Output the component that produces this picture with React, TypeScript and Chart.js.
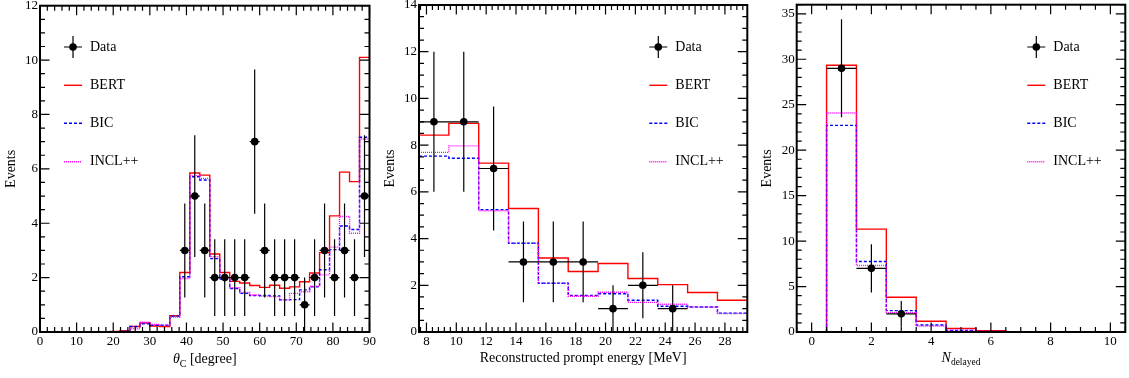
import React, { useEffect, useRef } from "react";
import { Chart, registerables } from "chart.js";

Chart.register(...registerables);

const FONT = '"Liberation Serif", "Times New Roman", serif';

// ---------- Panel 1: theta_C ----------
const thetaRange = [0, 90];
const thetaNBins = 33;
const thetaBERT = [0, 0, 0, 0, 0, 0, 0, 0.02, 0.05, 0.2, 0.33, 0.22, 0.2, 0.6, 2.19, 5.85, 5.77, 2.87, 2.19, 1.86, 1.8, 1.71, 1.64, 1.72, 1.61, 1.66, 1.85, 2.17, 2.92, 4.27, 5.88, 5.53, 10.1];
const thetaBIC = [0, 0, 0, 0, 0, 0, 0, 0.01, 0.03, 0.2, 0.3, 0.25, 0.25, 0.58, 2.03, 5.71, 5.59, 2.7, 1.95, 1.6, 1.42, 1.34, 1.34, 1.33, 1.18, 1.19, 1.55, 1.66, 2.29, 3.03, 3.9, 3.77, 7.16];
const thetaINCL = [0, 0, 0, 0, 0, 0, 0, 0.01, 0.04, 0.12, 0.36, 0.28, 0.25, 0.55, 1.97, 5.75, 5.65, 2.77, 1.97, 1.63, 1.45, 1.36, 1.32, 1.3, 1.18, 1.42, 1.48, 1.68, 2.1, 3.12, 4.25, 3.63, 7.1];
const thetaDataBins = [14, 15, 16, 17, 18, 19, 20, 21, 22, 23, 24, 25, 26, 27, 28, 29, 30, 31, 32];
const thetaData = [3, 5, 3, 2, 2, 2, 2, 7, 3, 2, 2, 2, 1, 2, 3, 2, 3, 2, 5];
const thetaDataErr = [1.73, 2.24, 1.73, 1.41, 1.41, 1.41, 1.41, 2.65, 1.73, 1.41, 1.41, 1.41, 1, 1.41, 1.73, 1.41, 1.73, 1.41, 2.24];
const thetaXTicks = [0, 10, 20, 30, 40, 50, 60, 70, 80, 90];
const thetaYTicks = [0, 2, 4, 6, 8, 10, 12];

// ---------- Panel 2: prompt energy ----------
const energyEdges = [7.5, 9.5, 11.5, 13.5, 15.5, 17.5, 19.5, 21.5, 23.5, 25.5, 27.5, 29.5];
const energyBERT = [8.43, 8.93, 7.23, 5.29, 3.17, 2.59, 2.93, 2.29, 2.03, 1.69, 1.36];
const energyBIC = [7.53, 7.44, 5.24, 3.8, 2.09, 1.57, 1.64, 1.36, 1.1, 1.07, 0.81];
const energyINCL = [7.69, 7.97, 5.19, 3.8, 2.09, 1.53, 1.7, 1.27, 1.19, 1.07, 0.79];
const energyDataBins = [0, 1, 2, 3, 4, 5, 6, 7, 8];
const energyData = [9, 9, 7, 3, 3, 3, 1, 2, 1];
const energyDataErr = [3, 3, 2.65, 1.73, 1.73, 1.73, 1, 1.41, 1];
const energyXTicks = [8, 10, 12, 14, 16, 18, 20, 22, 24, 26, 28];
const energyYTicks = [0, 2, 4, 6, 8, 10, 12, 14];

// ---------- Panel 3: N_delayed ----------
const ndelEdges = [-0.5, 0.5, 1.5, 2.5, 3.5, 4.5, 5.5, 6.5, 7.5, 8.5, 9.5, 10.5];
const ndelBERT = [0, 29.34, 11.31, 3.82, 1.18, 0.4, 0.15, 0, 0, 0, 0];
const ndelBIC = [0, 22.73, 7.75, 2.35, 0.77, 0.18, 0.05, 0, 0, 0, 0];
const ndelINCL = [0, 24.09, 7.31, 2.13, 0.66, 0.22, 0.05, 0, 0, 0, 0];
const ndelDataBins = [1, 2, 3];
const ndelData = [29, 7, 2];
const ndelDataErr = [5.39, 2.65, 1.41];
const ndelXTicks = [0, 2, 4, 6, 8, 10];
const ndelYTicks = [0, 5, 10, 15, 20, 25, 30, 35];

const seriesLabels = ["Data", "BERT", "BIC", "INCL++"];

function uniformEdges(range: number[], n: number) {
  const w = (range[1] - range[0]) / n;
  return Array.from({ length: n + 1 }, (_, i) => range[0] + i * w);
}

function histPoints(edges: number[], vals: number[]) {
  const pts = vals.map((v, i) => ({ x: edges[i], y: v }));
  pts.push({ x: edges[edges.length - 1], y: vals[vals.length - 1] });
  return pts;
}

function dataPoints(edges: number[], bins: number[], vals: number[]) {
  return bins.map((b, i) => ({ x: (edges[b] + edges[b + 1]) / 2, y: vals[i] }));
}

const rootFrame = {
  id: "rootFrame",
  afterDraw(chart: any, _a: any, opts: any) {
    const { ctx, chartArea: a, scales } = chart;
    const xs = scales.x;
    const ys = scales.y;
    const major = 9.5;
    const minor = 5;
    ctx.save();
    ctx.strokeStyle = "#000";
    ctx.lineWidth = 1.2;
    ctx.beginPath();
    const isMajor = (v: number, list: number[]) => list.some((t) => Math.abs(t - v) < 1e-6);
    const k0x = Math.ceil(xs.min / opts.xMinor - 1e-6);
    const k1x = Math.floor(xs.max / opts.xMinor + 1e-6);
    for (let k = k0x; k <= k1x; k++) {
      const v = k * opts.xMinor;
      const len = isMajor(v, opts.xMajor) ? major : minor;
      const p = xs.getPixelForValue(v);
      ctx.moveTo(p, a.bottom);
      ctx.lineTo(p, a.bottom - len);
      ctx.moveTo(p, a.top);
      ctx.lineTo(p, a.top + len);
    }
    const k0y = Math.ceil(ys.min / opts.yMinor - 1e-6);
    const k1y = Math.floor(ys.max / opts.yMinor + 1e-6);
    for (let k = k0y; k <= k1y; k++) {
      const v = k * opts.yMinor;
      const len = isMajor(v, opts.yMajor) ? major : minor;
      const p = ys.getPixelForValue(v);
      ctx.moveTo(a.left, p);
      ctx.lineTo(a.left + len, p);
      ctx.moveTo(a.right, p);
      ctx.lineTo(a.right - len, p);
    }
    ctx.stroke();
    ctx.lineWidth = 2;
    ctx.strokeRect(a.left, a.top, a.right - a.left, a.bottom - a.top);
    ctx.restore();
  },
};

const errorBars = {
  id: "errorBars",
  afterDatasetDraw(chart: any, args: any) {
    const ds = chart.data.datasets[args.index];
    if (!ds.yErr) return;
    const { ctx, chartArea: a, scales } = chart;
    const xs = scales.x;
    const ys = scales.y;
    ctx.save();
    ctx.beginPath();
    ctx.rect(a.left, a.top, a.right - a.left, a.bottom - a.top);
    ctx.clip();
    ctx.strokeStyle = "#000";
    ctx.lineWidth = 1.2;
    ctx.beginPath();
    ds.data.forEach((pt: any, j: number) => {
      const x = xs.getPixelForValue(pt.x);
      const y = ys.getPixelForValue(pt.y);
      ctx.moveTo(x, ys.getPixelForValue(pt.y - ds.yErr[j]));
      ctx.lineTo(x, ys.getPixelForValue(pt.y + ds.yErr[j]));
      ctx.moveTo(xs.getPixelForValue(pt.x - ds.xErr[j]), y);
      ctx.lineTo(xs.getPixelForValue(pt.x + ds.xErr[j]), y);
    });
    ctx.stroke();
    ctx.fillStyle = "#000";
    ds.data.forEach((pt: any) => {
      const x = xs.getPixelForValue(pt.x);
      const y = ys.getPixelForValue(pt.y);
      ctx.beginPath();
      ctx.arc(x, y, ds.markerRadius, 0, Math.PI * 2);
      ctx.fill();
    });
    ctx.restore();
  },
};

const rootLegend = {
  id: "rootLegend",
  afterDraw(chart: any, _a: any, opts: any) {
    const { ctx, chartArea: a } = chart;
    const x0 = a.left + opts.dx;
    ctx.save();
    ctx.font = `14px ${FONT}`;
    ctx.textBaseline = "middle";
    ctx.textAlign = "left";
    chart.data.datasets.forEach((ds: any, i: number) => {
      const y = opts.rowY[i];
      if (ds.yErr) {
        ctx.strokeStyle = "#000";
        ctx.lineWidth = 1.2;
        ctx.setLineDash([]);
        ctx.beginPath();
        ctx.moveTo(x0, y);
        ctx.lineTo(x0 + 18, y);
        ctx.moveTo(x0 + 9, y - 11);
        ctx.lineTo(x0 + 9, y + 11);
        ctx.stroke();
        ctx.fillStyle = "#000";
        ctx.beginPath();
        ctx.arc(x0 + 9, y, ds.markerRadius, 0, Math.PI * 2);
        ctx.fill();
      } else {
        ctx.strokeStyle = ds.borderColor;
        ctx.lineWidth = ds.borderWidth;
        ctx.setLineDash(ds.borderDash || []);
        ctx.beginPath();
        ctx.moveTo(x0, y);
        ctx.lineTo(x0 + 18, y);
        ctx.stroke();
      }
      ctx.setLineDash([]);
      ctx.fillStyle = "#000";
      ctx.fillText(ds.label, x0 + 26, y);
    });
    ctx.restore();
  },
};

const subTitle = {
  id: "subTitle",
  afterDraw(chart: any, _a: any, opts: any) {
    if (!opts || !opts.parts) return;
    const { ctx, chartArea: a } = chart;
    ctx.save();
    ctx.fillStyle = "#000";
    ctx.textBaseline = "alphabetic";
    ctx.textAlign = "left";
    const fonts = opts.parts.map((p: any) => `${p.italic ? "italic " : ""}${p.size}px ${FONT}`);
    const widths = opts.parts.map((p: any, i: number) => {
      ctx.font = fonts[i];
      return ctx.measureText(p.text).width;
    });
    const total = widths.reduce((s: number, w: number) => s + w, 0);
    let x = (a.left + a.right) / 2 - total / 2;
    opts.parts.forEach((p: any, i: number) => {
      ctx.font = fonts[i];
      ctx.fillText(p.text, x, opts.baseline + (p.dy || 0));
      x += widths[i];
    });
    ctx.restore();
  },
};

type Panel = {
  edges: number[];
  bert: number[];
  bic: number[];
  incl: number[];
  dataBins: number[];
  data: number[];
  dataErr: number[];
  xMin: number;
  xMax: number;
  yMax: number;
  xTicks: number[];
  yTicks: number[];
  xMinor: number;
  yMinor: number;
  left: number;
  padRight: number;
  padTop: number;
  yTitlePad: number;
  xTitle?: string;
  xTitleParts?: any[];
  xTitleBaseline?: number;
  legendDx: number;
};

function makeConfig(p: Panel): any {
  const tickFont = { family: FONT, size: 13 };
  const dataPts = dataPoints(p.edges, p.dataBins, p.data);
  const xErr = p.dataBins.map((b) => (p.edges[b + 1] - p.edges[b]) / 2);
  return {
    type: "line",
    data: {
      datasets: [
        {
          label: seriesLabels[0],
          data: dataPts,
          showLine: false,
          pointRadius: 0,
          yErr: p.dataErr,
          xErr,
          markerRadius: 3.8,
          order: 0,
        },
        {
          label: seriesLabels[1],
          data: histPoints(p.edges, p.bert),
          borderColor: "#ff0000",
          borderWidth: 1.4,
          stepped: "before",
          pointRadius: 0,
          fill: false,
          order: 3,
        },
        {
          label: seriesLabels[2],
          data: histPoints(p.edges, p.bic),
          borderColor: "#0000ff",
          borderWidth: 1.4,
          borderDash: [3, 2],
          stepped: "before",
          pointRadius: 0,
          fill: false,
          order: 2,
        },
        {
          label: seriesLabels[3],
          data: histPoints(p.edges, p.incl),
          borderColor: "#ff00ff",
          borderWidth: 1.4,
          borderDash: [1, 1],
          stepped: "before",
          pointRadius: 0,
          fill: false,
          order: 1,
        },
      ],
    },
    options: {
      responsive: false,
      animation: false,
      events: [],
      layout: { padding: { left: 0, right: p.padRight, top: p.padTop, bottom: 0 } },
      plugins: {
        legend: { display: false },
        tooltip: { enabled: false },
        rootFrame: { xMinor: p.xMinor, yMinor: p.yMinor, xMajor: p.xTicks, yMajor: p.yTicks },
        rootLegend: { dx: p.legendDx, rowY: [47, 85.3, 123.3, 161.7] },
        subTitle: p.xTitleParts ? { parts: p.xTitleParts, baseline: p.xTitleBaseline } : {},
      },
      scales: {
        x: {
          type: "linear",
          min: p.xMin,
          max: p.xMax,
          grid: { display: false, drawTicks: false },
          border: { display: false },
          ticks: { font: tickFont, color: "#000", padding: 2, autoSkip: false, maxRotation: 0, callback: (v: any) => String(v) },
          afterBuildTicks: (s: any) => {
            s.ticks = p.xTicks.map((v) => ({ value: v }));
          },
          afterFit: (s: any) => {
            s.height = 46;
            s.paddingLeft = 0;
            s.paddingRight = 0;
          },
          title: p.xTitle
            ? { display: true, text: p.xTitle, color: "#000", font: { family: FONT, size: 14 }, padding: { top: 0, bottom: 10.9 } }
            : { display: false },
        },
        y: {
          type: "linear",
          min: 0,
          max: p.yMax,
          grid: { display: false, drawTicks: false },
          border: { display: false },
          ticks: { font: tickFont, color: "#000", padding: 2, autoSkip: false, callback: (v: any) => String(v) },
          afterBuildTicks: (s: any) => {
            s.ticks = p.yTicks.map((v) => ({ value: v }));
          },
          afterFit: (s: any) => {
            s.width = p.left;
            s.paddingTop = 0;
            s.paddingBottom = 0;
          },
          title: { display: true, text: "Events", color: "#000", font: { family: FONT, size: 14 }, padding: { top: p.yTitlePad, bottom: 0 } },
        },
      },
    },
    plugins: [errorBars, rootFrame, rootLegend, subTitle],
  };
}

const thetaEdges = uniformEdges(thetaRange, thetaNBins);

const panels: { canvasLeft: number; width: number; panel: Panel }[] = [
  {
    canvasLeft: 0,
    width: 376,
    panel: {
      edges: thetaEdges,
      bert: thetaBERT,
      bic: thetaBIC,
      incl: thetaINCL,
      dataBins: thetaDataBins,
      data: thetaData,
      dataErr: thetaDataErr,
      xMin: thetaRange[0],
      xMax: thetaRange[1],
      yMax: 12,
      xTicks: thetaXTicks,
      yTicks: thetaYTicks,
      xMinor: 2,
      yMinor: 0.5,
      left: 40,
      padRight: 6.5,
      padTop: 5.7,
      yTitlePad: 2.6,
      xTitleParts: [
        { text: "θ", italic: true, size: 14 },
        { text: "C", size: 10, dy: 3.4 },
        { text: " [degree]", size: 14 },
      ],
      xTitleBaseline: 363.3,
      legendDx: 24,
    },
  },
  {
    canvasLeft: 376,
    width: 376,
    panel: {
      edges: energyEdges,
      bert: energyBERT,
      bic: energyBIC,
      incl: energyINCL,
      dataBins: energyDataBins,
      data: energyData,
      dataErr: energyDataErr,
      xMin: 7.5,
      xMax: 29.5,
      yMax: 14,
      xTicks: energyXTicks,
      yTicks: energyYTicks,
      xMinor: 0.4,
      yMinor: 0.5,
      left: 43,
      padRight: 4.7,
      padTop: 5,
      yTitlePad: 5.6,
      xTitle: "Reconstructed prompt energy [MeV]",
      legendDx: 230.3,
    },
  },
  {
    canvasLeft: 752,
    width: 377,
    panel: {
      edges: ndelEdges,
      bert: ndelBERT,
      bic: ndelBIC,
      incl: ndelINCL,
      dataBins: ndelDataBins,
      data: ndelData,
      dataErr: ndelDataErr,
      xMin: -0.5,
      xMax: 10.5,
      yMax: 36,
      xTicks: ndelXTicks,
      yTicks: ndelYTicks,
      xMinor: 0.5,
      yMinor: 1,
      left: 44.7,
      padRight: 3.7,
      padTop: 4.7,
      yTitlePad: 7.3,
      xTitleParts: [
        { text: "N", italic: true, size: 14 },
        { text: "delayed", size: 9.5, dy: 2.8 },
      ],
      xTitleBaseline: 361.7,
      legendDx: 230.6,
    },
  },
];

function PanelChart({ panel, width }: { panel: Panel; width: number }) {
  const ref = useRef<HTMLCanvasElement | null>(null);
  useEffect(() => {
    if (!ref.current) return;
    const chart = new Chart(ref.current, makeConfig(panel));
    return () => chart.destroy();
  }, [panel]);
  return <canvas ref={ref} width={width} height={378} style={{ width, height: 378, display: "block" }} />;
}

export default function App() {
  return (
    <div style={{ position: "fixed", left: 0, top: 0, width: 1129, height: 378, background: "#fff" }}>
      {panels.map((p, i) => (
        <div key={i} style={{ position: "absolute", left: p.canvasLeft, top: 0, width: p.width, height: 378 }}>
          <PanelChart panel={p.panel} width={p.width} />
        </div>
      ))}
    </div>
  );
}
